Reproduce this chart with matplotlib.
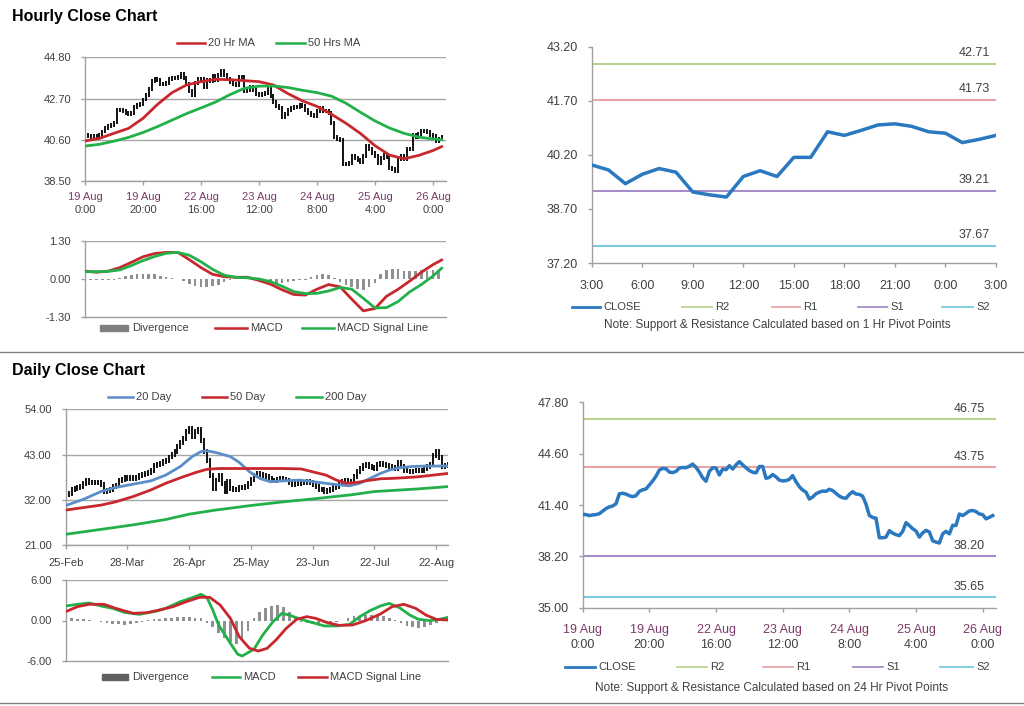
import numpy as np
import matplotlib
matplotlib.use('Agg')
import matplotlib.pyplot as plt
from matplotlib.lines import Line2D
from matplotlib.patches import Rectangle

plt.rcParams['font.family'] = ['Liberation Sans', 'DejaVu Sans']

# ---------------- DATA ----------------
hr_close = [40.82, 40.80, 40.74, 40.78, 40.80, 40.86, 41.02, 41.18, 41.28, 41.34,
            41.48, 42.10, 42.13, 42.08, 41.98, 41.92, 41.98, 42.25, 42.35, 42.40,
            42.65, 42.90, 43.20, 43.58, 43.68, 43.66, 43.45, 43.42, 43.50, 43.70,
            43.74, 43.72, 43.82, 43.95, 43.75, 43.45, 43.10, 42.88, 43.50, 43.72,
            43.70, 43.27, 43.64, 43.60, 43.85, 43.64, 43.90, 44.10, 43.90, 43.72,
            43.55, 43.44, 43.40, 43.80, 43.80, 43.06, 43.12, 43.30, 43.15, 42.95,
            42.90, 42.92, 43.00, 43.23, 42.85, 42.54, 42.33, 42.20, 41.77, 41.90,
            42.10, 42.20, 42.27, 42.25, 42.38, 42.30, 42.12, 41.95, 41.85, 41.82,
            42.06, 42.23, 42.08, 42.06, 41.95, 41.45, 40.75, 40.62, 40.58, 39.36,
            39.36, 39.40, 39.80, 39.65, 39.55, 39.49, 39.75, 40.30, 40.12,
            39.92, 39.78, 39.40, 39.66, 39.82, 39.72, 39.17, 39.09, 39.03, 39.60,
            39.76, 39.60, 40.13, 40.13, 40.84, 40.74, 40.88, 41.03, 41.06, 40.99,
            40.84, 40.80, 40.54, 40.63, 40.74]

hr_ma_x = [0, 5, 10, 15, 20, 25, 30, 35, 40, 45, 50, 55, 60, 65, 70, 75, 80, 85,
           90, 95, 100, 105, 110, 115, 120, 123]
hr_ma20 = [40.54, 40.67, 40.93, 41.18, 41.69, 42.40, 43.00, 43.39, 43.56, 43.68,
           43.66, 43.61, 43.56, 43.39, 42.95, 42.58, 42.30, 41.90, 41.44, 40.92,
           40.30, 39.82, 39.63, 39.80, 40.05, 40.25]
hr_ma50 = [40.28, 40.37, 40.53, 40.72, 40.97, 41.27, 41.60, 41.93, 42.22, 42.52,
           42.90, 43.22, 43.33, 43.34, 43.26, 43.12, 43.00, 42.82, 42.46, 42.00,
           41.56, 41.20, 40.93, 40.74, 40.64, 40.60]

hr_macd_x = [0, 4, 8, 12, 16, 20, 24, 28, 32, 36, 40, 44, 48, 52, 56, 60, 64, 68,
             72, 76, 80, 84, 88, 92, 96, 100, 104, 108, 112, 116, 120, 123]
hr_macd = [0.26, 0.22, 0.26, 0.38, 0.56, 0.75, 0.86, 0.90, 0.90, 0.65, 0.38, 0.15,
           0.07, 0.05, 0.05, -0.06, -0.19, -0.38, -0.54, -0.56, -0.36, -0.20, -0.28,
           -0.70, -1.10, -1.02, -0.60, -0.36, -0.08, 0.22, 0.48, 0.64]
hr_signal = [0.24, 0.24, 0.25, 0.30, 0.45, 0.62, 0.76, 0.87, 0.90, 0.80, 0.58, 0.32,
             0.12, 0.05, 0.03, -0.01, -0.10, -0.26, -0.44, -0.51, -0.50, -0.42, -0.30,
             -0.36, -0.67, -1.00, -0.99, -0.78, -0.45, -0.20, 0.09, 0.36]
hr_div = [-0.03, -0.04, -0.04, -0.05, -0.05, -0.04, 0.04, 0.10, 0.14, 0.16,
          0.17, 0.16, 0.15, 0.10, 0.05, 0.02, -0.02, -0.08, -0.18, -0.26,
          -0.28, -0.27, -0.26, -0.22, -0.12, -0.04, 0.02, 0.02, -0.02, -0.05,
          -0.08, -0.10, -0.12, -0.15, -0.14, -0.10, -0.07, -0.05, -0.03, 0.05,
          0.13, 0.16, 0.12, 0.02, -0.10, -0.20, -0.30, -0.36, -0.39, -0.30,
          -0.15, 0.15, 0.30, 0.33, 0.32, 0.28, 0.25, 0.28, 0.30, 0.28,
          0.30, 0.26]

hr_tick_pos = [0, 20, 40, 60, 80, 100, 120]
hr_tick_day = ['19 Aug', '19 Aug', '22 Aug', '23 Aug', '24 Aug', '25 Aug', '26 Aug']
hr_tick_time = ['0:00', '20:00', '16:00', '12:00', '8:00', '4:00', '0:00']

pv_hours = ['3:00', '6:00', '9:00', '12:00', '15:00', '18:00', '21:00', '0:00', '3:00']
hr_levels = [42.71, 41.73, 39.21, 37.67]
dy_levels = [46.75, 43.75, 38.20, 35.65]
level_names = ['R2', 'R1', 'S1', 'S2']

dy_close = [33.2, 33.6, 34.4, 34.8, 35.0, 35.3, 36.0, 36.6, 36.2, 36.3,
            36.1, 36.3, 35.6, 34.1, 34.3, 34.6, 35.2, 35.5, 36.6, 37.0,
            37.4, 37.2, 37.5, 37.2, 37.5, 37.9, 38.1, 38.4, 38.6, 39.2,
            40.4, 40.5, 40.9, 41.2, 41.5, 42.4, 43.0, 43.8, 45.0, 45.9,
            46.8, 48.5, 49.4, 47.4, 48.6, 49.0, 46.5, 43.8, 41.5, 38.0,
            34.8, 36.8, 38.0, 36.0, 34.0, 36.4, 34.8, 34.4, 34.6, 34.9,
            35.0, 35.2, 36.0, 37.0, 37.8, 38.4, 38.2, 38.0, 37.6, 37.2,
            36.8, 36.6, 37.0, 37.1, 36.9, 36.8, 36.2, 35.6, 35.9, 36.0,
            36.2, 36.3, 36.4, 36.1, 35.8, 35.2, 34.6, 34.4, 34.1, 34.3,
            34.6, 34.9, 35.2, 36.0, 36.4, 36.8, 36.5, 36.0, 37.6, 38.8,
            39.6, 40.3, 40.5, 40.1, 39.9, 39.6, 40.6, 40.9, 40.5, 40.3,
            40.1, 39.9, 39.6, 41.0, 40.2, 39.2, 39.0, 38.8, 39.0, 39.2,
            39.1, 39.2, 39.6, 40.0, 40.5, 42.8, 43.7, 42.3, 40.2, 40.3,
            40.7]

dy_ma20_x = [0, 6, 12, 17, 23, 29, 34, 39, 43, 46, 48, 51, 56, 59, 62.5, 66, 69.5,
             74, 79.5, 84, 88.5, 93, 96.5, 100, 103.5, 107, 110, 113.5, 118, 122.5,
             126, 130]
dy_ma20 = [30.6, 32.1, 34.0, 35.0, 35.8, 36.6, 38.0, 40.1, 42.5, 43.7, 43.9, 43.5,
           42.5, 41.1, 38.8, 37.2, 36.4, 36.6, 36.8, 36.4, 36.0, 35.6, 35.4, 36.0,
           37.2, 38.4, 39.2, 39.8, 40.1, 40.2, 40.2, 40.2]
dy_ma50_x = [0, 6, 12, 17, 23, 29, 34, 40, 44.5, 48, 52, 57, 63, 68, 74, 80, 84,
             88.5, 92, 95.5, 99, 102, 107, 111, 116, 120, 125, 130]
dy_ma50 = [29.5, 30.1, 30.7, 31.5, 32.8, 34.4, 36.0, 37.6, 38.7, 39.4, 39.6, 39.6,
           39.6, 39.6, 39.6, 39.5, 38.8, 38.0, 36.8, 36.0, 36.2, 36.6, 37.1, 37.2,
           37.4, 37.6, 38.0, 38.4]
dy_ma200_x = [0, 12, 23, 34, 42, 51, 63, 74, 84, 97, 105, 119, 130]
dy_ma200 = [23.6, 24.8, 25.9, 27.2, 28.5, 29.5, 30.6, 31.5, 32.2, 33.2, 34.0, 34.6, 35.2]

dy_macd_x = [0, 4, 8, 12, 16, 20, 25, 30, 34, 39, 43, 46, 48, 50, 52, 56, 58.5, 60,
             64, 67, 70.5, 73.5, 76, 80, 84, 88, 92, 96.5, 100, 103.5, 107, 110,
             113.5, 117, 120, 124, 127, 130]
dy_macd = [2.15, 2.4, 2.6, 2.15, 1.8, 1.2, 0.91, 1.31, 1.8, 2.79, 3.38, 3.88, 3.43,
           1.56, -0.67, -3.38, -5.0, -5.26, -4.27, -2.15, -0.17, 1.06, 0.81, 0.17,
           -0.32, -0.81, -0.81, -0.57, 0.57, 1.46, 2.15, 2.54, 1.9, 0.81, 0.17, -0.02,
           0.17, 0.47]
dy_sig_x = [0, 4, 8, 13, 17, 23, 27.5, 32, 36.5, 41, 45.5, 49, 52.5, 56, 59, 62.5,
            65.5, 68.5, 71.5, 75, 78.5, 82, 85, 89, 93, 97.5, 102, 107, 111, 115, 119,
            122.5, 126, 130]
dy_signal = [1.31, 2.05, 2.4, 2.4, 1.8, 1.06, 1.16, 1.56, 2.05, 2.79, 3.43, 3.43, 2.3,
             0.32, -2.39, -4.12, -4.52, -4.12, -2.89, -1.16, 0.17, 0.57, 0.32, -0.32,
             -0.72, -0.67, -0.02, 0.96, 2.05, 2.4, 1.8, 0.81, 0.17, 0.07]
dy_div = [0.4, 0.3, 0.2, 0.15, 0.05, -0.1, -0.25, -0.4, -0.5, -0.55,
          -0.6, -0.55, -0.4, -0.2, 0.1, 0.2, 0.25, 0.3, 0.4, 0.45,
          0.5, 0.45, 0.35, 0.3, -0.3, -1.0, -1.8, -2.6, -3.2, -3.5,
          -2.8, -1.5, 0.3, 1.2, 1.8, 2.1, 2.3, 2.0, 1.2, 0.3,
          -0.2, -0.4, -0.5, -0.5, -0.4, -0.3, -0.2, -0.1, 0.3, 0.6,
          0.7, 0.8, 0.8, 0.7, 0.6, 0.4, 0.1, -0.4, -0.8, -1.0,
          -1.1, -0.9, -0.6, -0.3, 0.1, 0.3]
dy_tick_pos = [0, 21, 42, 63, 84, 105, 126]
dy_tick_lab = ['25-Feb', '28-Mar', '26-Apr', '25-May', '23-Jun', '22-Jul', '22-Aug']

# ---------------- STYLE ----------------
W, H = 1024, 706
fig = plt.figure(figsize=(W / 100, H / 100), dpi=100)
fig.patch.set_facecolor('white')

TXT = '#404040'
GRID = '#a6a6a6'
SPINE = '#a0a0a0'
RED = '#c8282d'
GREEN = '#22b04a'
BLUE = '#2a78c0'
BLUE20 = '#5b8dc8'
LVL_COL = ['#b8d48c', '#e8a4a4', '#a68cc8', '#7ccae2']
DAYCOL = '#7b3a6b'


def add_ax(l, t, r, b):
    return fig.add_axes([l / W, 1 - b / H, (r - l) / W, (b - t) / H])


def style(ax, fs=8, grid=True):
    for s in ['top', 'right']:
        ax.spines[s].set_visible(False)
    for s in ['left', 'bottom']:
        ax.spines[s].set_color(SPINE)
        ax.spines[s].set_linewidth(1.0)
    ax.tick_params(axis='both', colors=SPINE, labelcolor=TXT, labelsize=fs,
                   length=3, width=1, direction='out')
    ax.tick_params(axis='y', pad=7)
    if grid:
        ax.yaxis.grid(True, color=GRID, lw=1)
        ax.set_axisbelow(True)


def fx(x):
    return x / W


def fy(y):
    return 1 - y / H


def leg_line(x0, x1, y, color, lw, label, fs=8):
    fig.add_artist(Line2D([fx(x0), fx(x1)], [fy(y), fy(y)], color=color, lw=lw))
    fig.text(fx(x1 + 3), fy(y), label, ha='left', va='center', fontsize=fs, color=TXT)


def leg_patch(x0, x1, y, color, label, fs=8):
    fig.add_artist(Rectangle((fx(x0), fy(y + 3)), fx(x1 - x0), 6 / H,
                             color=color, transform=fig.transFigure))
    fig.text(fx(x1 + 4), fy(y), label, ha='left', va='center', fontsize=fs, color=TXT)


def two_line_ticks(ax, pos, days, times, off1, off2, fs):
    ax.set_xticks(pos)
    ax.set_xticklabels([])
    for p, d, t in zip(pos, days, times):
        ax.annotate(d, xy=(p, 0), xycoords=('data', 'axes fraction'),
                    xytext=(0, -off1), textcoords='offset pixels', ha='center',
                    va='center', fontsize=fs, color=DAYCOL, annotation_clip=False)
        ax.annotate(t, xy=(p, 0), xycoords=('data', 'axes fraction'),
                    xytext=(0, -off2), textcoords='offset pixels', ha='center',
                    va='center', fontsize=fs, color=TXT, annotation_clip=False)


def candles(ax, closes, ext):
    c = np.asarray(closes, dtype=float)
    o = np.r_[c[0], c[:-1]]
    lo = np.minimum(o, c) - ext
    hi = np.maximum(o, c) + ext
    ax.vlines(np.arange(len(c)), lo, hi, color='black', lw=1.3, zorder=2)


# Titles & separators
fig.text(fx(12), fy(16), 'Hourly Close Chart', fontsize=11.5, fontweight='bold',
         ha='left', va='center', color='black')
fig.text(fx(12), fy(370), 'Daily Close Chart', fontsize=11.5, fontweight='bold',
         ha='left', va='center', color='black')
for yy in [352, 703]:
    fig.add_artist(Line2D([0, 1], [fy(yy), fy(yy)], color='#808080', lw=1))

# ---- Panel 1: hourly price ----
ax1 = add_ax(85, 57.3, 446, 181)
style(ax1)
x_hr = np.arange(len(hr_close))
candles(ax1, hr_close, 0.1)
ax1.plot(hr_ma_x, hr_ma20, color=RED, lw=2, zorder=3)
ax1.plot(hr_ma_x, hr_ma50, color=GREEN, lw=2, zorder=3)
ax1.set_xlim(0, 124.5)
ax1.set_ylim(38.5, 44.8)
ax1.set_yticks([38.5, 40.6, 42.7, 44.8])
ax1.set_yticklabels(['38.50', '40.60', '42.70', '44.80'])
two_line_ticks(ax1, hr_tick_pos, hr_tick_day, hr_tick_time, 16, 29, 8)
leg_line(177, 205, 43, RED, 1.8, '20 Hr MA')
leg_line(276, 305, 43, GREEN, 1.8, '50 Hrs MA')

# ---- Panel 2: hourly MACD ----
ax2 = add_ax(85, 240.7, 446, 316.7)
style(ax2, grid=False)
ax2.axhline(1.3, color=GRID, lw=1)
ax2.bar(np.arange(0, 2 * len(hr_div), 2), hr_div, width=0.9, color='#909090', zorder=1)
ax2.plot(hr_macd_x, hr_macd, color=RED, lw=2, zorder=3)
ax2.plot(hr_macd_x, hr_signal, color=GREEN, lw=2, zorder=3)
ax2.set_xlim(0, 124.5)
ax2.set_ylim(-1.3, 1.3)
ax2.set_yticks([-1.3, 0, 1.3])
ax2.set_yticklabels(['-1.30', '0.00', '1.30'])
ax2.set_xticks([])
leg_patch(100, 128, 328, '#808080', 'Divergence')
leg_line(215, 247, 328, RED, 1.8, 'MACD')
leg_line(302, 334, 328, GREEN, 1.8, 'MACD Signal Line')

# ---- Panel 3: hourly pivot ----
ax3 = add_ax(591.7, 46.7, 996, 263)
style(ax3, fs=9, grid=False)
pv_close = hr_close[99:]
for lv, col in zip(hr_levels, LVL_COL):
    ax3.axhline(lv, color=col, lw=1.5, zorder=1)
    ax3.annotate(f'{lv:.2f}', xy=(1, lv), xycoords=('axes fraction', 'data'),
                 xytext=(-6, 11), textcoords='offset pixels', ha='right', va='center',
                 fontsize=9, color=TXT)
ax3.plot(np.arange(len(pv_close)), pv_close, color=BLUE, lw=2.5, zorder=3)
ax3.set_xlim(0, 24)
ax3.set_ylim(37.2, 43.2)
ax3.set_yticks([37.2, 38.7, 40.2, 41.7, 43.2])
ax3.set_yticklabels(['37.20', '38.70', '40.20', '41.70', '43.20'])
ax3.set_xticks(np.arange(0, 25, 3))
ax3.set_xticklabels(pv_hours)
ax3.tick_params(axis='x', pad=9)
leg_line(572, 600, 307, BLUE, 2, 'CLOSE')
for (x0, x1), nm, col in zip([(682, 712), (772, 800), (858, 887), (942, 973)],
                             level_names, LVL_COL):
    leg_line(x0, x1, 307, col, 1.3, nm)
fig.text(fx(777), fy(325), 'Note: Support & Resistance Calculated based on 1 Hr Pivot Points',
         ha='center', va='center', fontsize=8.5, color=TXT)

# ---- Panel 4: daily price ----
ax4 = add_ax(65.7, 409.3, 448, 545)
style(ax4)
candles(ax4, dy_close, 0.6)
ax4.plot(dy_ma20_x, dy_ma20, color=BLUE20, lw=2, zorder=3)
ax4.plot(dy_ma50_x, dy_ma50, color=RED, lw=2, zorder=3)
ax4.plot(dy_ma200_x, dy_ma200, color=GREEN, lw=2, zorder=3)
ax4.set_xlim(0, 130)
ax4.set_ylim(21, 54)
ax4.set_yticks([21, 32, 43, 54])
ax4.set_yticklabels(['21.00', '32.00', '43.00', '54.00'])
ax4.set_xticks(dy_tick_pos)
ax4.set_xticklabels(dy_tick_lab)
ax4.tick_params(axis='x', pad=6)
leg_line(108, 133, 397, BLUE20, 1.8, '20 Day')
leg_line(202, 227, 397, RED, 1.8, '50 Day')
leg_line(296, 322, 397, GREEN, 1.8, '200 Day')

# ---- Panel 5: daily MACD ----
ax5 = add_ax(65.7, 580, 448, 661)
style(ax5, grid=False)
ax5.axhline(6, color=GRID, lw=1)
ax5.bar(np.arange(0, 2 * len(dy_div), 2), dy_div, width=0.9, color='#909090', zorder=1)
ax5.plot(dy_macd_x, dy_macd, color=GREEN, lw=2, zorder=3)
ax5.plot(dy_sig_x, dy_signal, color=RED, lw=2, zorder=3)
ax5.set_xlim(0, 130)
ax5.set_ylim(-6, 6)
ax5.set_yticks([-6, 0, 6])
ax5.set_yticklabels(['-6.00', '0.00', '6.00'])
ax5.set_xticks([])
leg_patch(102, 128, 677, '#606060', 'Divergence')
leg_line(212, 240, 677, GREEN, 1.8, 'MACD')
leg_line(298, 327, 677, RED, 1.8, 'MACD Signal Line')

# ---- Panel 6: hourly close vs daily pivots ----
ax6 = add_ax(582.7, 402.3, 996, 607.7)
style(ax6, fs=9, grid=False)
for lv, col in zip(dy_levels, LVL_COL):
    ax6.axhline(lv, color=col, lw=1.5, zorder=1)
    ax6.annotate(f'{lv:.2f}', xy=(1, lv), xycoords=('axes fraction', 'data'),
                 xytext=(-11, 10), textcoords='offset pixels', ha='right', va='center',
                 fontsize=9, color=TXT)
ax6.plot(x_hr, hr_close, color=BLUE, lw=2.5, zorder=3)
ax6.set_xlim(0, 124)
ax6.set_ylim(35, 47.8)
ax6.set_yticks([35, 38.2, 41.4, 44.6, 47.8])
ax6.set_yticklabels(['35.00', '38.20', '41.40', '44.60', '47.80'])
two_line_ticks(ax6, hr_tick_pos, hr_tick_day, hr_tick_time, 22, 37, 9)
leg_line(565, 595, 667, BLUE, 2, 'CLOSE')
for (x0, x1), nm, col in zip([(677, 707), (763, 793), (853, 883), (940, 973)],
                             level_names, LVL_COL):
    leg_line(x0, x1, 667, col, 1.3, nm)
fig.text(fx(772), fy(688), 'Note: Support & Resistance Calculated based on 24 Hr Pivot Points',
         ha='center', va='center', fontsize=8.5, color=TXT)

fig.savefig('out.png', dpi=100, facecolor='white')
